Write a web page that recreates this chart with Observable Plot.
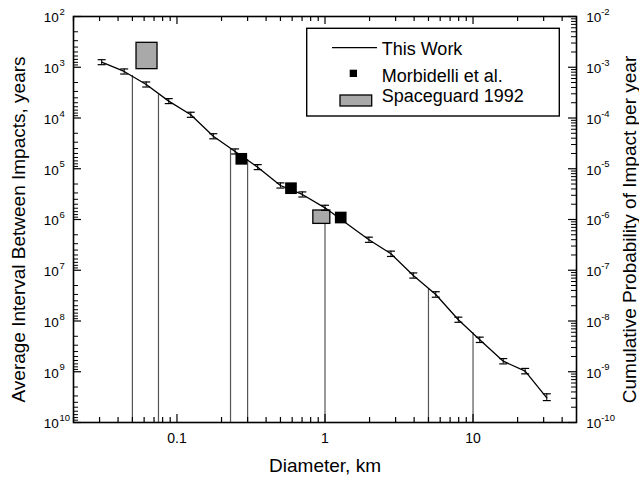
<!DOCTYPE html>
<html><head><meta charset="utf-8">
<script src="https://cdn.jsdelivr.net/npm/d3@7"></script>
<script src="https://cdn.jsdelivr.net/npm/@observablehq/plot@0.6"></script>
<style>
body{margin:0;background:#fff;}
#wrap{position:relative;width:639px;height:481px;overflow:hidden;font-family:"Liberation Sans",Arial,sans-serif;}
#legend{position:absolute;left:0;top:0;pointer-events:none;}
</style></head><body><div id="wrap"></div>
<script>
// "This Work" curve
const diameterKm = [0.031, 0.044, 0.062, 0.088, 0.124, 0.176, 0.247, 0.351, 0.5, 0.703, 1.0, 1.98, 2.79, 3.95, 5.6, 7.96, 11.1, 16.0, 22.5, 31.5];
const intervalYears = [795, 1210, 2190, 4650, 8650, 22900, 45700, 93100, 214000, 321000, 589000, 2.51e6, 4.74e6, 1.27e7, 3.0e7, 9.46e7, 2.35e8, 6.2e8, 9.75e8, 3.26e9];
const errLowYears = [710, 1080, 1950, 4150, 7700, 20400, 40700, 82900, 190000, 286000, 524000, 2.23e6, 4.2e6, 1.13e7, 2.65e7, 8.4e7, 2.08e8, 5.5e8, 8.6e8, 2.72e9];
const errHighYears = [890, 1360, 2450, 5200, 9700, 25700, 51200, 104000, 240000, 360000, 660000, 2.82e6, 5.35e6, 1.43e7, 3.4e7, 1.06e8, 2.65e8, 7.0e8, 1.1e9, 3.7e9];
// Morbidelli et al.
const morbDiameter = [0.272, 0.589, 1.277];
const morbInterval = [63700, 241600, 914000];
// Spaceguard 1992 ranges
const sgD1 = [0.0533, 0.834];
const sgD2 = [0.0739, 1.086];
const sgI1 = [330, 665000];
const sgI2 = [1090, 1.22e6];
// drop lines
const dropDiameter = [0.05, 0.075, 0.23, 0.3, 1, 5, 10];
const dropInterval = [1450, 3500, 40000, 66000, 589000, 2.3e7, 1.7e8];
// axes
const xDomain = [0.02, 50];
const yDomain = [1e2, 1e10];
const xMajor = [0.1, 1, 10];
const xLabels = ["0.1", "1", "10"];
const xMinor = [0.02,0.03,0.04,0.05,0.06,0.07,0.08,0.09,0.2,0.3,0.4,0.5,0.6,0.7,0.8,0.9,2,3,4,5,6,7,8,9,20,30,40];
const yExponents = [2,3,4,5,6,7,8,9,10];
const yMajor = yExponents.map(k => Math.pow(10, k));
const yMinorLeft = [], yMinorRight = [];
for (const k of [2,3,4,5,6,7,8,9]) for (let m = 2; m <= 9; m++) {
  yMinorLeft.push(m * Math.pow(10, k));
  yMinorRight.push(Math.pow(10, k + 1) / m);
}
const leftTitle = "Average Interval Between Impacts, years";
const rightTitle = "Cumulative Probability of Impact per year";
const bottomTitle = "Diameter, km";
const legendLabels = ["This Work", "Morbidelli et al.", "Spaceguard 1992"];

const pts = diameterKm.map((d, i) => ({d, y: intervalYears[i], lo: errLowYears[i], hi: errHighYears[i]}));
const morb = morbDiameter.map((d, i) => ({d, y: morbInterval[i]}));
const sg = sgD1.map((d, i) => ({x1: d, x2: sgD2[i], y1: sgI1[i], y2: sgI2[i]}));
const drops = dropDiameter.map((d, i) => ({d, top: dropInterval[i]}));
const yTicks = yExponents.map(k => ({v: Math.pow(10, k), k}));

const W = 639, H = 481, mL = 73, mR = 63, mT = 16, mB = 59;
const pw = W - mL - mR, ph = H - mT - mB;
const capSym = {draw(ctx) { ctx.moveTo(-4, 0); ctx.lineTo(4, 0); }};
const font = 14, supFont = 9.5;

const chart = Plot.plot({
  width: W, height: H,
  marginLeft: mL, marginRight: mR, marginTop: mT, marginBottom: mB,
  style: {fontFamily: "'Liberation Sans', Arial, sans-serif", fontSize: "14px", background: "#fff", color: "#000"},
  x: {type: "log", domain: xDomain},
  y: {type: "log", domain: yDomain, reverse: true, axis: null},
  marks: [
    Plot.ruleX(drops, {x: "d", y1: yDomain[1], y2: "top", stroke: "#555", strokeWidth: 1.2}),
    Plot.rect(sg, {x1: "x1", x2: "x2", y1: "y1", y2: "y2", fill: "#a9a9a9", stroke: "#000", strokeWidth: 1.3}),
    Plot.line(pts, {x: "d", y: "y", stroke: "#000", strokeWidth: 1.3}),
    Plot.ruleX(pts, {x: "d", y1: "lo", y2: "hi", stroke: "#000", strokeWidth: 1}),
    Plot.dot(pts, {x: "d", y: "lo", symbol: capSym, fill: "none", stroke: "#000", strokeWidth: 1.2}),
    Plot.dot(pts, {x: "d", y: "hi", symbol: capSym, fill: "none", stroke: "#000", strokeWidth: 1.2}),
    Plot.dot(morb, {x: "d", y: "y", symbol: "square", r: 6.6, fill: "#000", stroke: "none"}),
    // inward ticks
    Plot.tickX(xMajor, {x: d => d, insetTop: ph - 8, stroke: "#000", strokeWidth: 1.2}),
    Plot.tickX(xMinor, {x: d => d, insetTop: ph - 5, stroke: "#000", strokeWidth: 1.2}),
    Plot.tickX(xMajor, {x: d => d, insetBottom: ph - 8, stroke: "#000", strokeWidth: 1.2}),
    Plot.tickX(xMinor, {x: d => d, insetBottom: ph - 5, stroke: "#000", strokeWidth: 1.2}),
    Plot.tickY(yMajor, {y: d => d, insetRight: pw - 8, stroke: "#000", strokeWidth: 1.2}),
    Plot.tickY(yMinorLeft, {y: d => d, insetRight: pw - 5, stroke: "#000", strokeWidth: 1}),
    Plot.tickY(yMajor, {y: d => d, insetLeft: pw - 8, stroke: "#000", strokeWidth: 1.2}),
    Plot.tickY(yMinorRight, {y: d => d, insetLeft: pw - 5, stroke: "#000", strokeWidth: 1}),
    Plot.frame({stroke: "#000", strokeWidth: 1.6}),
    Plot.axisX({ticks: xMajor, tickSize: 0, tickPadding: 11, tickFormat: d => xLabels[xMajor.indexOf(d)], label: null, fontSize: font}),
    // left tick labels: base "10" + raised exponent
    Plot.text(yTicks, {y: "v", text: () => "10", frameAnchor: "left", textAnchor: "start", dx: -29.7, dy: 1.6, fontSize: 13.5, fill: "#000"}),
    Plot.text(yTicks, {y: "v", text: d => String(d.k), frameAnchor: "left", textAnchor: "start", dx: -14, dy: -4.5, fontSize: supFont, fill: "#000"}),
    // right tick labels
    Plot.text(yTicks, {y: "v", text: () => "10", frameAnchor: "right", textAnchor: "start", dx: 9.7, dy: 1.6, fontSize: 13.5, fill: "#000"}),
    Plot.text(yTicks, {y: "v", text: d => String(-d.k), frameAnchor: "right", textAnchor: "start", dx: 24.7, dy: -4.5, fontSize: supFont, fill: "#000"}),
    Plot.text([leftTitle], {text: d => d, frameAnchor: "left", textAnchor: "middle", rotate: -90, dx: -55, dy: 10, fontSize: 19, fill: "#000"}),
    Plot.text([rightTitle], {text: d => d, frameAnchor: "right", textAnchor: "middle", rotate: -90, dx: 53, dy: 10, fontSize: 19, fill: "#000"}),
    Plot.text([bottomTitle], {text: d => d, frameAnchor: "bottom", dy: 49, fontSize: 19, fill: "#000"})
  ]
});
const wrap = document.getElementById("wrap");
wrap.appendChild(chart);

// legend overlay
const L = d3.select(wrap).append("svg").attr("id", "legend").attr("width", W).attr("height", H);
const g = L.append("g").attr("transform", "translate(306.7,28.3)");
g.append("rect").attr("x", 0).attr("y", 0).attr("width", 252.6).attr("height", 87.7).attr("fill", "#fff").attr("stroke", "#000").attr("stroke-width", 1.4);
g.append("line").attr("x1", 25.3).attr("x2", 70.3).attr("y1", 19.4).attr("y2", 19.4).attr("stroke", "#000").attr("stroke-width", 1.2);
g.append("rect").attr("x", 43).attr("y", 41.4).attr("width", 7.3).attr("height", 7.3).attr("fill", "#000");
g.append("rect").attr("x", 33.3).attr("y", 66.7).attr("width", 31.7).attr("height", 11).attr("fill", "#a9a9a9").attr("stroke", "#000").attr("stroke-width", 1.3);
const baselines = [26.7, 53.4, 74];
legendLabels.forEach((t, i) => {
  g.append("text").attr("x", 75).attr("y", baselines[i]).attr("font-size", 18).attr("font-family", "'Liberation Sans', Arial, sans-serif").attr("fill", "#000").text(t);
});
</script></body></html>
